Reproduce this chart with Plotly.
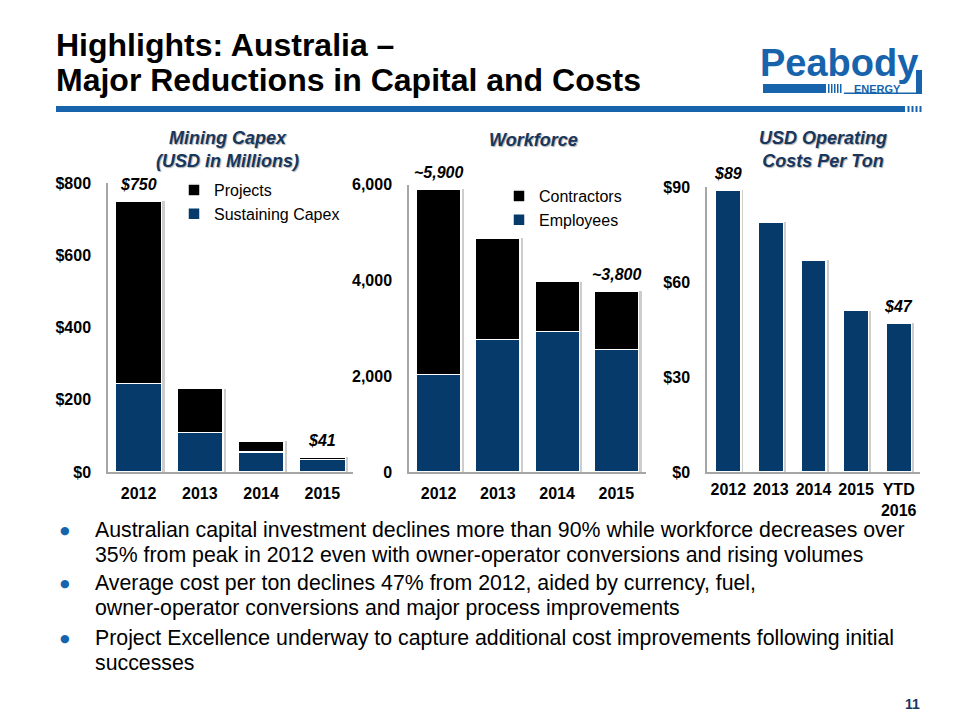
import plotly.graph_objects as go

# ---------------- data ----------------
capex_years = ["2012", "2013", "2014", "2015"]
capex_sustaining = [245, 109, 55, 34]
capex_projects = [505, 122, 30, 7]
capex_labels = ["$750", "", "", "$41"]
capex_ticks = [0, 200, 400, 600, 800]
capex_ticktext = ["$0", "$200", "$400", "$600", "$800"]

wf_years = ["2012", "2013", "2014", "2015"]
wf_employees = [2030, 2770, 2930, 2560]
wf_contractors = [3870, 2105, 1042, 1210]
wf_labels = ["~5,900", "", "", "~3,800"]
wf_ticks = [0, 2000, 4000, 6000]
wf_ticktext = ["0", "2,000", "4,000", "6,000"]

cost_years = ["2012", "2013", "2014", "2015", "YTD<br>2016"]
cost_values = [89, 79, 67, 51, 47]
cost_labels = ["$89", "", "", "", "$47"]
cost_ticks = [0, 30, 60, 90]
cost_ticktext = ["$0", "$30", "$60", "$90"]

title_lines = ["Highlights: Australia \u2013", "Major Reductions in Capital and Costs"]
panel_titles = ["Mining Capex<br>(USD in Millions)", "Workforce", "USD Operating<br>Costs Per Ton"]
bullets = [
    ["Australian capital investment declines more than 90% while workforce decreases over",
     "35% from peak in 2012 even with owner-operator conversions and rising volumes"],
    ["Average cost per ton declines 47% from 2012, aided by currency, fuel,",
     "owner-operator conversions and major process improvements"],
    ["Project Excellence underway to capture additional cost improvements following initial",
     "successes"],
]
page_number = "11"

# ---------------- style ----------------
W, H = 960, 720
NAVY = "#053a6b"
BLACK = "#000000"
LOGO_BLUE = "#1764ad"
TITLE_NAVY = "#17375e"
AXIS_GRAY = "#a6a6a6"
SHADOW = "#cdcdcd"
FONT = "Liberation Sans, Arial, sans-serif"


def px(x):
    return x / W


def py(y):
    return 1 - y / H


capex_total = [a + b for a, b in zip(capex_sustaining, capex_projects)]
wf_total = [a + b for a, b in zip(wf_employees, wf_contractors)]

fig = go.Figure()

bar_line = dict(color="white", width=1.5)
SH = 0.05  # shadow shift in category units

# soft drop shadows (base axes, drawn beneath the overlaid bar axes)
fig.add_trace(go.Bar(x=capex_years, y=capex_total, marker=dict(color=SHADOW, line=dict(width=0)),
                     width=0.75, offset=-0.375 + SH, xaxis="x", yaxis="y",
                     showlegend=False, hoverinfo="skip"))
fig.add_trace(go.Bar(x=wf_years, y=wf_total, marker=dict(color=SHADOW, line=dict(width=0)),
                     width=0.75, offset=-0.375 + SH, xaxis="x2", yaxis="y2",
                     showlegend=False, hoverinfo="skip"))
fig.add_trace(go.Bar(x=cost_years, y=cost_values, marker=dict(color=SHADOW, line=dict(width=0)),
                     width=0.59, offset=-0.295 + 0.06, xaxis="x3", yaxis="y3",
                     showlegend=False, hoverinfo="skip"))

# chart 1 : capex
fig.add_trace(go.Bar(x=capex_years, y=capex_sustaining, name="Sustaining Capex",
                     marker=dict(color=NAVY, line=bar_line), xaxis="x4", yaxis="y4",
                     legend="legend", legendgroup="s"))
fig.add_trace(go.Bar(x=capex_years, y=capex_projects, name="Projects",
                     marker=dict(color=BLACK, line=bar_line), xaxis="x4", yaxis="y4",
                     legend="legend", legendgroup="p"))
# chart 2 : workforce
fig.add_trace(go.Bar(x=wf_years, y=wf_employees, name="Employees",
                     marker=dict(color=NAVY, line=bar_line), xaxis="x5", yaxis="y5",
                     legend="legend2", legendgroup="e"))
fig.add_trace(go.Bar(x=wf_years, y=wf_contractors, name="Contractors",
                     marker=dict(color=BLACK, line=bar_line), xaxis="x5", yaxis="y5",
                     legend="legend2", legendgroup="c"))
# chart 3 : operating cost
fig.add_trace(go.Bar(x=cost_years, y=cost_values, name="USD Operating Costs Per Ton",
                     marker=dict(color=NAVY, line=bar_line), width=0.59,
                     xaxis="x6", yaxis="y6", showlegend=False))

tickfont = dict(family=FONT, size=16, color="black", weight="bold")
xcommon = dict(type="category", showline=True, linecolor=AXIS_GRAY, linewidth=1.5,
               showgrid=False, zeroline=False, ticks="", ticklabelstandoff=6,
               tickfont=tickfont, automargin=False, fixedrange=True)
ycommon = dict(type="linear", showline=True, linecolor=AXIS_GRAY, linewidth=1.5,
               showgrid=False, zeroline=False, ticks="", ticklabelstandoff=12,
               tickfont=tickfont, automargin=False, fixedrange=True, tickmode="array")
hidden = dict(visible=False, showgrid=False, zeroline=False, automargin=False, fixedrange=True)

cap_xr = [-0.5, len(capex_years) - 0.5]
wf_xr = [-0.5, len(wf_years) - 0.5]
cost_xr = [-0.5, len(cost_years) - 0.5]

fig.update_layout(
    width=W, height=H,
    margin=dict(l=0, r=0, t=0, b=0, pad=0, autoexpand=False),
    paper_bgcolor="white", plot_bgcolor="white",
    barmode="stack", bargap=0.25,
    font=dict(family=FONT, color="black"),
    xaxis=dict(xcommon, domain=[px(100), px(345)], anchor="y", range=cap_xr),
    yaxis=dict(ycommon, domain=[py(464), py(175)], anchor="x", range=[0, 800],
               tickvals=capex_ticks, ticktext=capex_ticktext),
    xaxis2=dict(xcommon, domain=[px(401), px(638)], anchor="y2", range=wf_xr),
    yaxis2=dict(ycommon, domain=[py(464), py(176.5)], anchor="x2", range=[0, 6000],
                tickvals=wf_ticks, ticktext=wf_ticktext),
    xaxis3=dict(xcommon, domain=[px(699), px(912)], anchor="y3", range=cost_xr,
                ticklabelstandoff=2),
    yaxis3=dict(ycommon, domain=[py(464), py(179)], anchor="x3", range=[0, 90],
                tickvals=cost_ticks, ticktext=cost_ticktext),
    xaxis4=dict(hidden, type="category", overlaying="x", anchor="y4", range=cap_xr),
    yaxis4=dict(hidden, overlaying="y", anchor="x4", range=[0, 800]),
    xaxis5=dict(hidden, type="category", overlaying="x2", anchor="y5", range=wf_xr),
    yaxis5=dict(hidden, overlaying="y2", anchor="x5", range=[0, 6000]),
    xaxis6=dict(hidden, type="category", overlaying="x3", anchor="y6", range=cost_xr),
    yaxis6=dict(hidden, overlaying="y3", anchor="x6", range=[0, 90]),
    legend=dict(x=px(166), y=py(165), xanchor="left", yanchor="top",
                bgcolor="rgba(0,0,0,0)", font=dict(family=FONT, size=16),
                tracegroupgap=4, traceorder="reversed"),
    legend2=dict(x=px(491), y=py(171), xanchor="left", yanchor="top",
                 bgcolor="rgba(0,0,0,0)", font=dict(family=FONT, size=16),
                 tracegroupgap=4, traceorder="reversed"),
    showlegend=True,
)

ann = []
# title
for i, line in enumerate(title_lines):
    ann.append(dict(x=px(46), y=py(37 + 35 * i), xref="paper", yref="paper",
                    text=line, showarrow=False, xanchor="left", yanchor="middle",
                    font=dict(family=FONT, size=32, color="black", weight="bold")))

# panel titles
panel_pos = [(219, 142), (525, 132), (815, 142)]
for t, (x0, y0) in zip(panel_titles, panel_pos):
    ann.append(dict(x=px(x0), y=py(y0), xref="paper", yref="paper", text=t,
                    showarrow=False, xanchor="center", yanchor="middle",
                    font=dict(family=FONT, size=18, color=TITLE_NAVY, weight="bold",
                              style="italic", shadow="1px 1px 1px #b0b0b0")))

# value labels (placed at category index, total height)
lab_font = dict(family=FONT, size=16, color="black", weight="bold", style="italic")
for tot, labs, xr, yr in [
    (capex_total, capex_labels, "x", "y"),
    (wf_total, wf_labels, "x2", "y2"),
    (cost_values, cost_labels, "x3", "y3"),
]:
    for i, (yv, lb) in enumerate(zip(tot, labs)):
        if lb:
            ann.append(dict(x=i, y=yv, xref=xr, yref=yr, text=lb, showarrow=False,
                            xanchor="center", yanchor="bottom", yshift=6, font=lab_font))

# bullets
line_y = [[522, 547], [575, 600], [630, 655]]
for blk, ys in zip(bullets, line_y):
    ann.append(dict(x=px(57), y=py(ys[0]), xref="paper", yref="paper", text="\u25cf",
                    showarrow=False, xanchor="center", yanchor="middle",
                    font=dict(family="DejaVu Sans", size=11, color=LOGO_BLUE)))
    for txt, yy in zip(blk, ys):
        ann.append(dict(x=px(86), y=py(yy), xref="paper", yref="paper", text=txt,
                        showarrow=False, xanchor="left", yanchor="middle", borderpad=0,
                        font=dict(family=FONT, size=21.3, color="black")))

# page number
ann.append(dict(x=px(904), y=py(696), xref="paper", yref="paper", text=page_number,
                showarrow=False, xanchor="center", yanchor="middle",
                font=dict(family=FONT, size=14, color=TITLE_NAVY, weight="bold")))

# logo text
ann.append(dict(x=px(831), y=py(55), xref="paper", yref="paper", text="Peabody",
                showarrow=False, xanchor="center", yanchor="middle",
                font=dict(family=FONT, size=38, color=LOGO_BLUE, weight="bold")))
ann.append(dict(x=px(869), y=py(80.5), xref="paper", yref="paper", text="ENERGY",
                showarrow=False, xanchor="center", yanchor="middle",
                font=dict(family=FONT, size=11, color=LOGO_BLUE, weight="bold")))

fig.update_layout(annotations=ann)

# decorative shapes: header rule and logo frame
shapes = []
shapes.append(dict(type="rect", xref="paper", yref="paper", x0=px(48), x1=px(897),
                   y0=py(104), y1=py(98), fillcolor=LOGO_BLUE, line=dict(width=0), layer="below"))
for k in range(4):
    x0 = 899.5 + k * 4
    shapes.append(dict(type="rect", xref="paper", yref="paper", x0=px(x0), x1=px(x0 + 2),
                       y0=py(104), y1=py(98), fillcolor=LOGO_BLUE, line=dict(width=0)))
shapes.append(dict(type="rect", xref="paper", yref="paper", x0=px(755), x1=px(818),
                   y0=py(85), y1=py(76), fillcolor=LOGO_BLUE, line=dict(width=0)))
for k in range(5):
    x0 = 820 + k * 3
    shapes.append(dict(type="rect", xref="paper", yref="paper", x0=px(x0), x1=px(x0 + 1.5),
                       y0=py(85), y1=py(76), fillcolor=LOGO_BLUE, line=dict(width=0)))
shapes.append(dict(type="rect", xref="paper", yref="paper", x0=px(836), x1=px(914),
                   y0=py(86), y1=py(84.5), fillcolor=LOGO_BLUE, line=dict(width=0)))
shapes.append(dict(type="rect", xref="paper", yref="paper", x0=px(908), x1=px(914),
                   y0=py(86), y1=py(62), fillcolor=LOGO_BLUE, line=dict(width=0)))
fig.update_layout(shapes=shapes)

fig.write_html("out.html", config={"displayModeBar": False})
